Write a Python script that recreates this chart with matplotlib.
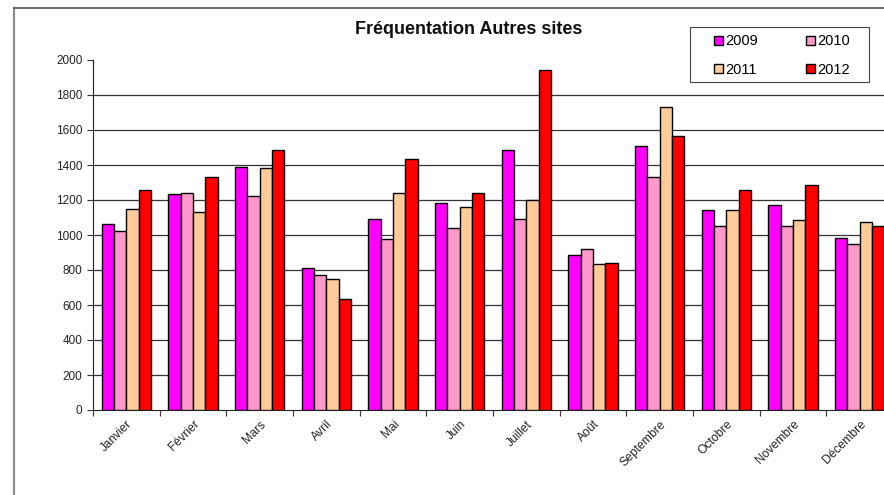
import matplotlib
matplotlib.use("Agg")
import matplotlib.pyplot as plt
import matplotlib.transforms as mtransforms
import numpy as np
from matplotlib.lines import Line2D
from matplotlib.patches import Rectangle

months = ["Janvier", "Février", "Mars", "Avril", "Mai", "Juin", "Juillet",
          "Août", "Septembre", "Octobre", "Novembre", "Décembre"]
years = ["2009", "2010", "2011", "2012"]
v2009 = [1063, 1236, 1390, 811, 1093, 1183, 1484, 888, 1509, 1141, 1173, 981]
v2010 = [1025, 1238, 1221, 771, 975, 1038, 1093, 918, 1331, 1049, 1049, 950]
v2011 = [1147, 1130, 1385, 747, 1238, 1162, 1198, 832, 1733, 1145, 1083, 1076]
v2012 = [1259, 1333, 1486, 632, 1436, 1240, 1943, 840, 1568, 1255, 1286, 1051]
series = [v2009, v2010, v2011, v2012]
colors = ["#FF00FF", "#FF99CC", "#FFCC99", "#FF0000"]
yticks = [0, 200, 400, 600, 800, 1000, 1200, 1400, 1600, 1800, 2000]

plt.rcParams['font.family'] = ['Liberation Sans', 'DejaVu Sans']

W, H = 884, 495
fig = plt.figure(figsize=(W / 100, H / 100), dpi=100)
left, right, top, bottom = 93, 893, 60, 410
ax = fig.add_axes([left / W, (H - bottom) / H, (right - left) / W, (bottom - top) / H])

x = np.arange(len(months))
bw = 0.185
bars = []
for i, (vals, c, lab) in enumerate(zip(series, colors, years)):
    b = ax.bar(x + (i - 1.5) * bw, vals, width=bw, color=c, edgecolor="black",
               linewidth=1.0, label=lab, zorder=3)
    bars.append(b)

ax.set_xlim(-0.5, len(months) - 0.5)
ax.set_ylim(0, 2000)
ax.set_yticks(yticks)
ax.set_yticklabels([str(t) for t in yticks], fontsize=8.5, color="#222222")
for t in yticks[1:-1]:
    ax.axhline(t, color="#333333", linewidth=0.9, zorder=1)

ax.set_xticks(np.arange(len(months) + 1) - 0.5, minor=False)
ax.set_xticklabels([])
ax.set_xticks(x, minor=True)
ax.set_xticklabels(months, minor=True, rotation=45, ha="right",
                   rotation_mode="anchor", fontsize=8.7, color="#222222")
shift = mtransforms.ScaledTranslation(-4 / 100, 0, fig.dpi_scale_trans)
for lbl in ax.get_xticklabels(minor=True):
    lbl.set_transform(lbl.get_transform() + shift)
ax.tick_params(axis="x", which="minor", length=0, pad=6)
ax.tick_params(axis="x", which="major", length=4, direction="out", color="#333333")
ax.tick_params(axis="y", length=4, direction="out", color="#333333")

for s in ["top", "right"]:
    ax.spines[s].set_visible(False)
ax.spines["left"].set_color("#222222")
ax.spines["bottom"].set_color("#222222")

fig.text(469 / W, 1 - 30 / H, "Fréquentation Autres sites", ha="center", va="center",
         fontsize=13, fontweight="bold", color="#111111")

# legend: rows 2009 2010 / 2011 2012 (matplotlib fills by column)
order = [0, 2, 1, 3]
aw, ah = right - left, bottom - top
leg = ax.legend([bars[k] for k in order], [years[k] for k in order], ncol=2, loc="lower left",
                bbox_to_anchor=((714 - left) / aw, (bottom - 77) / ah,
                                (850 - 714) / aw, (77 - 31) / ah),
                mode="expand", frameon=False,
                fontsize=10.5, handlelength=0.6, handleheight=0.6, handletextpad=0.15,
                borderaxespad=0, borderpad=0, columnspacing=1.0, labelspacing=1.0)
fig.add_artist(Rectangle((690 / W, 1 - 82 / H), (869 - 690) / W, (82 - 27) / H,
                         transform=fig.transFigure, fill=False, edgecolor="#444444",
                         linewidth=0.8))

fig.add_artist(Line2D([14 / W, 14 / W], [0, 1 - 8 / H], color="#888888", linewidth=1.5))
fig.add_artist(Line2D([14 / W, 1], [1 - 8 / H, 1 - 8 / H], color="#555555", linewidth=1.2))

fig.savefig("out.png", dpi=100)
